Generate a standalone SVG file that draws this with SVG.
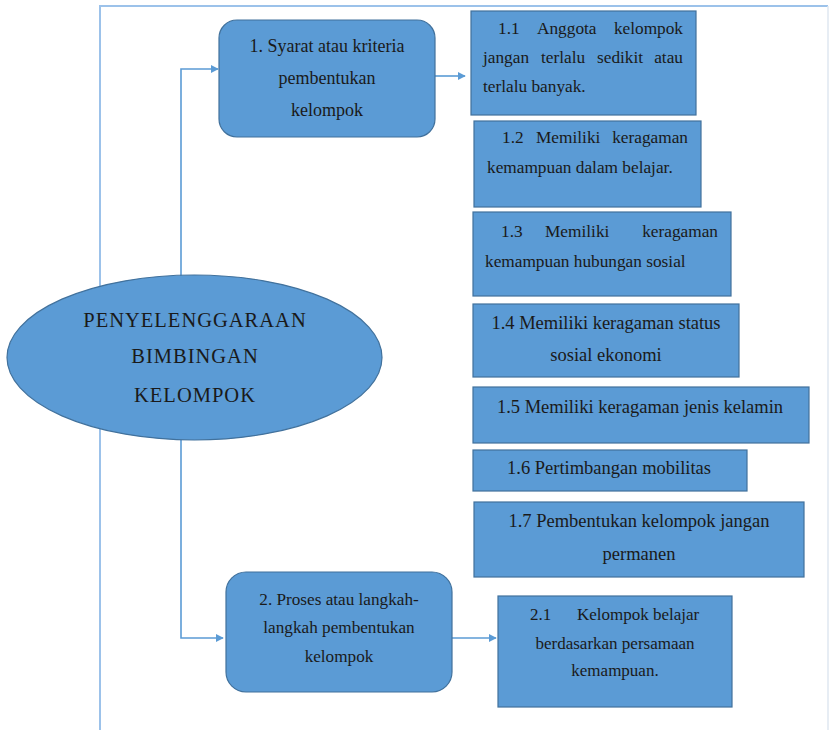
<svg xmlns="http://www.w3.org/2000/svg" width="830" height="730" viewBox="0 0 830 730">
  <defs>
    <style>
      .frame { fill: none; stroke: #9cc2ea; stroke-width: 2; }
      .edge { fill: none; stroke: #dfe7f1; stroke-width: 1.5; }
      .conn { fill: none; stroke: #5b9bd5; stroke-width: 1.6; }
      .node { fill: #5b9bd5; stroke: #41719c; stroke-width: 1.2; }
      .t { font-family: "Liberation Serif", "Times New Roman", serif; fill: #1a1a1a; }
      .c { text-anchor: middle; }
      .e { text-anchor: end; }
    </style>
    <marker id="arrow" viewBox="0 0 10 10" refX="9" refY="5" markerWidth="8" markerHeight="8" markerUnits="userSpaceOnUse" orient="auto">
      <path d="M0,0 L10,5 L0,10 z" fill="#5b9bd5"/>
    </marker>
  </defs>

  <rect width="830" height="730" fill="#ffffff"/>

  <!-- page frame -->
  <g id="frame">
    <path class="frame" d="M100,730 V6 H828"/>
    <path class="edge" d="M828,6 V730"/>
  </g>

  <!-- connectors -->
  <g id="connectors">
    <path class="conn" d="M181,276 V69 H218" marker-end="url(#arrow)"/>
    <path class="conn" d="M181,440 V638 H223" marker-end="url(#arrow)"/>
    <path class="conn" d="M435,76 H465" marker-end="url(#arrow)"/>
    <path class="conn" d="M452,638 H496" marker-end="url(#arrow)"/>
  </g>

  <!-- root -->
  <g id="root">
    <ellipse class="node" cx="194.5" cy="357.5" rx="187.5" ry="82.5"/>
    <text class="t c" font-size="20.5" letter-spacing="1" x="195" y="327">PENYELENGGARAAN</text>
    <text class="t c" font-size="20.5" letter-spacing="1" x="195" y="363">BIMBINGAN</text>
    <text class="t c" font-size="20.5" letter-spacing="1" x="195" y="402">KELOMPOK</text>
  </g>

  <!-- 1. criteria -->
  <g id="n1">
    <rect class="node" x="219" y="20" width="216" height="117" rx="18"/>
    <text class="t c" font-size="18" x="327" y="52">1. Syarat atau kriteria</text>
    <text class="t c" font-size="18" x="327" y="84">pembentukan</text>
    <text class="t c" font-size="18" x="327" y="116">kelompok</text>
  </g>

  <g id="n1_1">
    <rect class="node" x="471" y="11" width="225" height="104"/>
    <g class="t" font-size="17.3">
      <text x="498" y="34">1.1</text>
      <text x="537" y="34">Anggota</text>
      <text class="e" x="683" y="34">kelompok</text>
      <text x="483" y="63">jangan</text>
      <text x="541" y="63">terlalu</text>
      <text x="597" y="63">sedikit</text>
      <text class="e" x="683" y="63">atau</text>
      <text x="483" y="92">terlalu banyak.</text>
    </g>
  </g>

  <g id="n1_2">
    <rect class="node" x="474" y="121" width="227" height="86"/>
    <g class="t" font-size="17.3">
      <text x="502" y="143">1.2</text>
      <text x="536" y="143">Memiliki</text>
      <text class="e" x="688" y="143">keragaman</text>
      <text x="487" y="173">kemampuan dalam belajar.</text>
    </g>
  </g>

  <g id="n1_3">
    <rect class="node" x="473" y="212" width="258" height="84"/>
    <g class="t" font-size="17.3">
      <text x="501" y="237">1.3</text>
      <text x="545" y="237">Memiliki</text>
      <text class="e" x="718" y="237">keragaman</text>
      <text x="485" y="267">kemampuan hubungan sosial</text>
    </g>
  </g>

  <g id="n1_4">
    <rect class="node" x="473" y="304" width="266" height="73"/>
    <text class="t c" font-size="18.5" x="606" y="329">1.4 Memiliki keragaman status</text>
    <text class="t c" font-size="18.5" x="606" y="361">sosial ekonomi</text>
  </g>

  <g id="n1_5">
    <rect class="node" x="473" y="387" width="336" height="56"/>
    <text class="t c" font-size="18.5" x="640" y="413">1.5 Memiliki keragaman jenis kelamin</text>
  </g>

  <g id="n1_6">
    <rect class="node" x="473" y="450" width="274" height="41"/>
    <text class="t c" font-size="18.5" x="609" y="474">1.6 Pertimbangan mobilitas</text>
  </g>

  <g id="n1_7">
    <rect class="node" x="474" y="502" width="330" height="75"/>
    <text class="t c" font-size="18.5" x="639" y="527">1.7 Pembentukan kelompok jangan</text>
    <text class="t c" font-size="18.5" x="639" y="560">permanen</text>
  </g>

  <!-- 2. process -->
  <g id="n2">
    <rect class="node" x="226" y="572" width="226" height="120" rx="20"/>
    <text class="t c" font-size="17.2" x="339" y="605">2. Proses atau langkah-</text>
    <text class="t c" font-size="17.2" x="339" y="633">langkah pembentukan</text>
    <text class="t c" font-size="17.2" x="339" y="662">kelompok</text>
  </g>

  <g id="n2_1">
    <rect class="node" x="498" y="596" width="234" height="111"/>
    <g class="t" font-size="17">
      <text x="530" y="620">2.1</text>
      <text x="577" y="620">Kelompok belajar</text>
      <text class="c" x="615" y="649">berdasarkan persamaan</text>
      <text class="c" x="615" y="676">kemampuan.</text>
    </g>
  </g>
</svg>
